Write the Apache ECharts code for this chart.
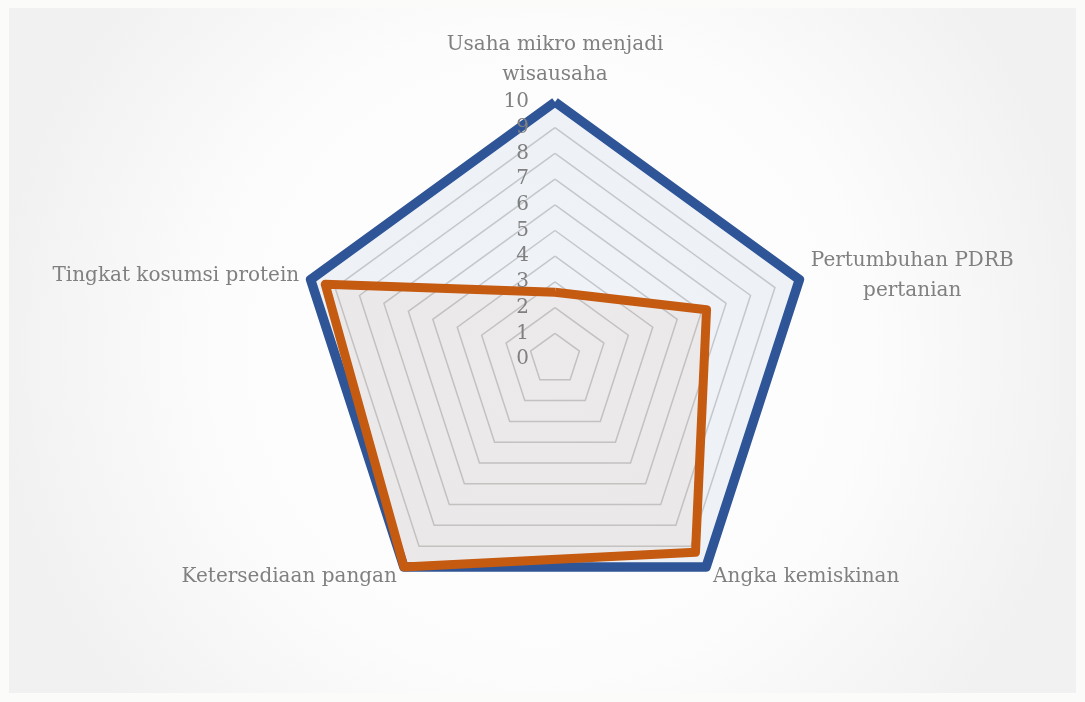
<!DOCTYPE html>
<html>
<head>
<meta charset="utf-8">
<script src="https://cdn.jsdelivr.net/npm/echarts@6/dist/echarts.min.js"></script>
<style>
  html, body { margin: 0; padding: 0; background: #fbfbf9; }
  #chart { position: absolute; left: 9px; top: 8px; width: 1067px; height: 685px; }
</style>
</head>
<body>
<div id="chart"></div>
<script>
// indicators, clockwise from top (as in the source chart)
const indicatorNames = [
  "Usaha mikro menjadi\nwisausaha",
  "Pertumbuhan PDRB\npertanian",
  "Angka kemiskinan",
  "Ketersediaan pangan",
  "Tingkat kosumsi protein",
];
const axisMax = 10;
const seriesTarget = [10, 10, 10, 10, 10];
const seriesActual = [2.6, 6.2, 9.3, 10, 9.4];

// echarts radar runs counter-clockwise, so flip the order after the top axis
const order = [0, 4, 3, 2, 1];
const ccw = (arr) => order.map((i) => arr[i]);

const labelColor = "#808080";
const fontFamily = "'DejaVu Serif', serif";

const chart = echarts.init(document.getElementById("chart"));

const option = {
  animation: false,
  backgroundColor: new echarts.graphic.RadialGradient(0.5, 0.5, 0.8, [
    { offset: 0, color: "#ffffff" },
    { offset: 0.6, color: "#fcfcfc" },
    { offset: 1, color: "#f1f1f1" },
  ]),
  radar: {
    center: [546, 351],
    radius: 257,
    shape: "polygon",
    startAngle: 90,
    splitNumber: axisMax,
    indicator: ccw(indicatorNames).map((n) => ({ name: n, min: 0, max: axisMax })),
    nameGap: 12,
    axisName: {
      color: labelColor,
      fontFamily,
      fontSize: 20,
      lineHeight: 30,
      // keep multi-line names centred on each other
      formatter: (name) =>
        name.split("\n").map((l) => "{c|" + l + "}").join("\n"),
      rich: {
        c: {
          align: "center",
          color: labelColor,
          fontFamily,
          fontSize: 20,
          lineHeight: 30,
        },
      },
    },
    axisLine: { show: false },
    axisTick: { show: false },
    axisLabel: { show: false },
    splitArea: { show: false },
    splitLine: {
      lineStyle: { color: "#d0d0d0", width: 1.5 },
    },
  },
  // polar only carries the 0..10 tick labels on the top spoke
  polar: { center: [546, 351], radius: 257 },
  angleAxis: {
    type: "value",
    min: 0,
    max: 360,
    startAngle: 90,
    show: false,
  },
  radiusAxis: {
    type: "value",
    min: 0,
    max: axisMax,
    interval: 1,
    axisLine: { show: false },
    axisTick: { show: false },
    splitLine: { show: false },
    axisLabel: {
      color: labelColor,
      fontFamily,
      fontSize: 20,
      margin: 26,
    },
    z: 10,
  },
  series: [
    {
      type: "radar",
      symbol: "none",
      z: 2,
      data: [
        {
          value: ccw(seriesTarget),
          lineStyle: { color: "#2f5597", width: 9.5, join: "round" },
          areaStyle: { color: "rgba(47,85,151,0.10)" },
        },
      ],
    },
    {
      type: "radar",
      symbol: "none",
      z: 3,
      data: [
        {
          value: ccw(seriesActual),
          lineStyle: { color: "#c55a11", width: 9, join: "round" },
          areaStyle: { color: "rgba(197,90,17,0.08)" },
        },
      ],
    },
  ],
};

chart.setOption(option);
</script>
</body>
</html>
